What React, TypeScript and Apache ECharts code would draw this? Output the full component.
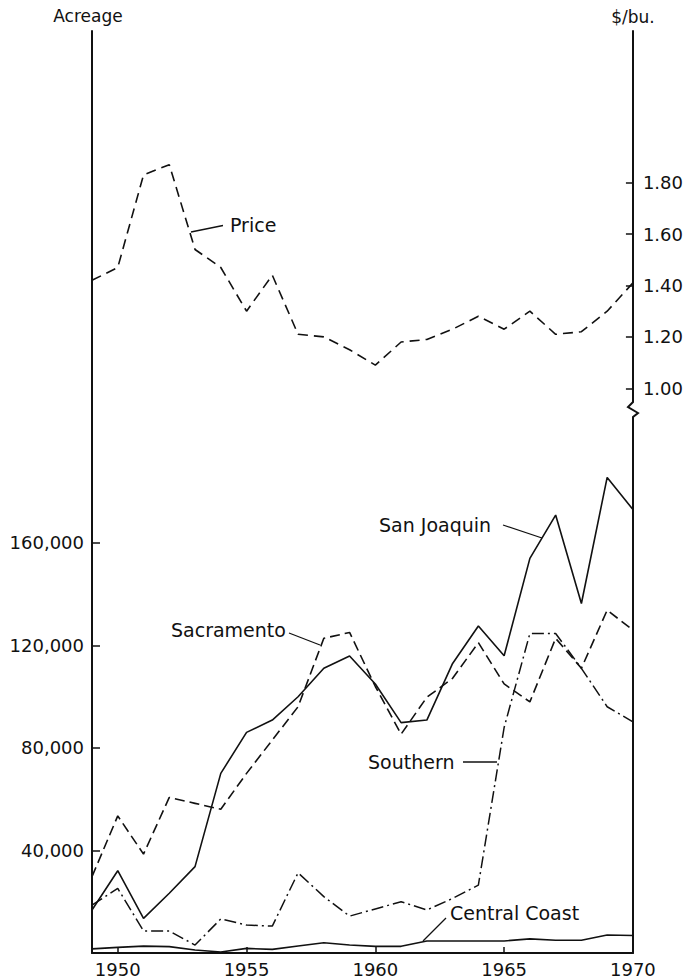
import React, { useEffect, useRef } from "react";
import * as echarts from "echarts";

const years = [1949, 1950, 1951, 1952, 1953, 1954, 1955, 1956, 1957, 1958, 1959, 1960, 1961, 1962, 1963, 1964, 1965, 1966, 1967, 1968, 1969, 1970];

const price = [1.42, 1.47, 1.83, 1.87, 1.54, 1.47, 1.30, 1.44, 1.21, 1.20, 1.15, 1.09, 1.18, 1.19, 1.23, 1.28, 1.23, 1.30, 1.21, 1.22, 1.30, 1.41];
const sanJoaquin = [16800, 32100, 13500, 23300, 33700, 70100, 86100, 90900, 100000, 111100, 115900, 105000, 89900, 90900, 113000, 127600, 116000, 154000, 170900, 136400, 185600, 173100];
const sacramento = [29800, 53500, 38600, 60700, 58400, 56100, 70100, 83100, 96100, 122800, 125100, 104000, 85400, 99800, 107200, 121100, 105000, 98000, 122800, 111100, 133800, 126000];
const southern = [18700, 25200, 8600, 8600, 3100, 13300, 10900, 10500, 31300, 22000, 14400, 17200, 20000, 16800, 21300, 26500, 88000, 124700, 124700, 111100, 96100, 90200];
const centralCoast = [1600, 2200, 2700, 2500, 1200, 400, 1800, 1400, 2700, 4000, 3100, 2600, 2600, 4700, 4700, 4700, 4700, 5500, 5000, 5000, 7000, 6800];

const xTickValues = [1950, 1955, 1960, 1965];
const xLabelValues = [1950, 1955, 1960, 1965, 1970];
const acreageTicks = [40000, 80000, 120000, 160000];
const priceTicks = [1.0, 1.2, 1.4, 1.6, 1.8];

const FONT = "'DejaVu Sans', Verdana, sans-serif";

const pairs = (vals: number[]) => years.map((y, i) => [y, vals[i]]);

const seriesLabels = [
  { text: "Price", x: 230, y: 225, line: [[223, 225.5], [191, 232]] },
  { text: "Sacramento", x: 171, y: 630, line: [[289, 633], [320, 645]] },
  { text: "San Joaquin", x: 379, y: 525, line: [[503, 525], [542, 538]] },
  { text: "Southern", x: 368, y: 762, line: [[463, 762], [497, 762]] },
  { text: "Central Coast", x: 450, y: 913, line: [[446, 918], [423, 941]] },
];

export default function App() {
  const ref = useRef<HTMLDivElement>(null);
  useEffect(() => {
    document.body.style.margin = "0";
    if (!ref.current) return;
    const chart = echarts.init(ref.current, undefined, { renderer: "svg" });
    const black = "#111";
    const txt = (text: string, x: number, y: number, size: number, align = "left") => ({
      type: "text",
      style: {
        text, x, y, fill: black,
        font: `${size}px ${FONT}`,
        align, verticalAlign: "middle",
        textAlign: align, textVerticalAlign: "middle",
      },
      z: 100,
    });
    const graphics: any[] = [
      txt("Acreage", 88, 16, 17, "center"),
      txt("$/bu.", 633, 17, 17, "center"),
      // axis break on the price axis
      { type: "rect", shape: { x: 627, y: 399, width: 12, height: 20 }, style: { fill: "#fff" }, z: 90 },
      {
        type: "polyline",
        shape: { points: [[633, 398], [633, 402], [628, 407], [638, 413], [633, 417], [633, 420]] },
        style: { stroke: black, lineWidth: 2, fill: "none" },
        z: 95,
      },
    ];
    seriesLabels.forEach((l) => {
      graphics.push(txt(l.text, l.x, l.y, 19));
      graphics.push({
        type: "polyline",
        shape: { points: l.line },
        style: { stroke: black, lineWidth: 1.3, fill: "none" },
        z: 100,
      });
    });

    const lineSeries = (name: string, vals: number[], type: any, width: number, yAxisIndex = 0) => ({
      name,
      type: "line",
      data: pairs(vals),
      yAxisIndex,
      symbol: "none",
      lineStyle: { color: black, width, type },
      z: 5,
    });

    chart.setOption({
      animation: false,
      backgroundColor: "#fff",
      textStyle: { fontFamily: FONT, color: black },
      grid: { left: 92, right: 53, top: 31, bottom: 27, containLabel: false },
      xAxis: {
        type: "value",
        min: 1949,
        max: 1970,
        axisLine: { onZero: false, lineStyle: { color: black, width: 2 } },
        axisTick: { customValues: xTickValues, inside: true, length: 6, lineStyle: { color: black, width: 1.5 } },
        axisLabel: {
          customValues: xLabelValues,
          color: black,
          fontSize: 18,
          fontFamily: FONT,
          margin: 7,
          formatter: (v: number) => String(Math.round(v)),
        },
        splitLine: { show: false },
      },
      yAxis: [
        {
          type: "value",
          position: "left",
          min: 0,
          max: 359800,
          axisLine: { show: true, lineStyle: { color: black, width: 2 } },
          axisTick: { show: true, customValues: acreageTicks, inside: true, length: 8, lineStyle: { color: black, width: 1.5 } },
          axisLabel: {
            customValues: acreageTicks,
            color: black,
            fontSize: 18,
            fontFamily: FONT,
            margin: 8,
            formatter: (v: number) => v.toLocaleString("en-US"),
          },
          splitLine: { show: false },
        },
        {
          type: "value",
          position: "right",
          min: -1.197,
          max: 2.39,
          axisLine: { show: true, lineStyle: { color: black, width: 2 } },
          axisTick: { show: true, customValues: priceTicks, inside: true, length: 7, lineStyle: { color: black, width: 1.5 } },
          axisLabel: {
            customValues: priceTicks,
            color: black,
            fontSize: 18,
            fontFamily: FONT,
            margin: 10,
            formatter: (v: number) => v.toFixed(2),
          },
          splitLine: { show: false },
        },
      ],
      series: [
        lineSeries("Price", price, [10, 6], 1.6, 1),
        lineSeries("San Joaquin", sanJoaquin, "solid", 1.6),
        lineSeries("Sacramento", sacramento, [10, 5], 1.6),
        lineSeries("Southern", southern, [12, 4, 2, 4], 1.5),
        lineSeries("Central Coast", centralCoast, "solid", 1.6),
      ],
      graphic: graphics,
    });
    return () => chart.dispose();
  }, []);
  return <div ref={ref} style={{ width: 686, height: 980 }} />;
}
